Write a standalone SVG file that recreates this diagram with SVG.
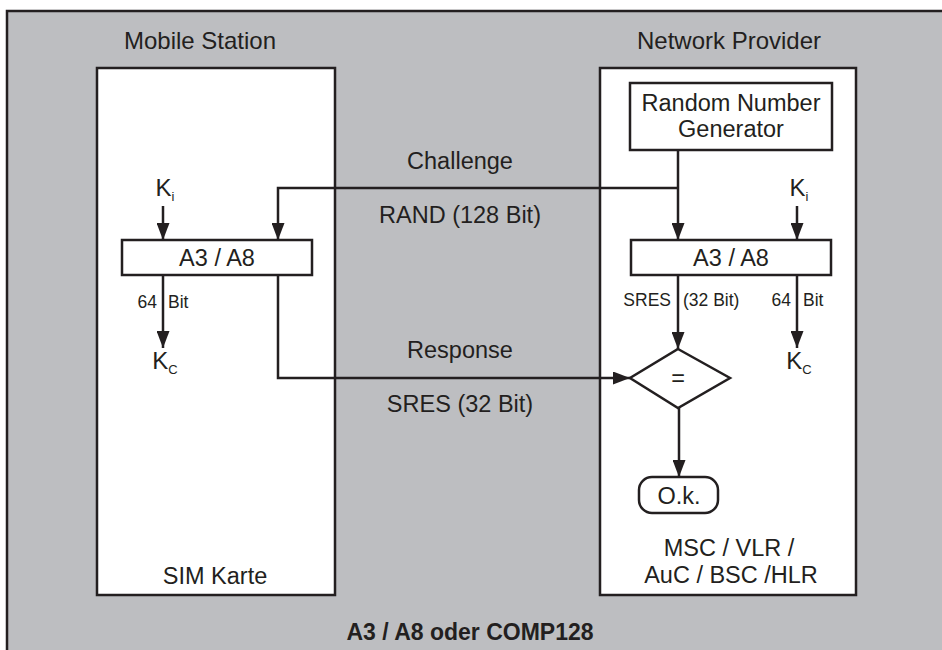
<svg xmlns="http://www.w3.org/2000/svg" width="942" height="650" viewBox="0 0 942 650">
<defs>
<style>
.frame{fill:#bdbec1;stroke:#231f20;stroke-width:2.5}
.box{fill:#ffffff;stroke:#231f20;stroke-width:2.5}
.ln{fill:none;stroke:#231f20;stroke-width:2.5}
text{font-family:"Liberation Sans",Arial,sans-serif;fill:#231f20}
.hd{font-size:24px}
.t{font-size:23.5px}
.s{font-size:17.5px}
.k{font-size:24px}
.sub{font-size:13px}
.b{font-size:23px;font-weight:bold}
</style>
<marker id="ah" viewBox="0 0 17 13" refX="17" refY="6.5" markerWidth="17" markerHeight="13" orient="auto" markerUnits="userSpaceOnUse">
<path d="M0,0 L17,6.5 L0,13 z" fill="#231f20"/>
</marker>
</defs>
<rect class="frame" x="7" y="11" width="945" height="650"/>
<g id="ms-label"><text class="hd" x="200" y="49" text-anchor="middle">Mobile Station</text></g>
<g id="np-label"><text class="hd" x="729" y="49" text-anchor="middle">Network Provider</text></g>
<g id="sim">
<rect class="box" x="97" y="68" width="238" height="527"/>
<text class="t" x="215" y="584" text-anchor="middle">SIM Karte</text>
</g>
<g id="network">
<rect class="box" x="600" y="68" width="256" height="527"/>
<text class="t" x="729" y="556" text-anchor="middle">MSC / VLR /</text>
<text class="t" x="731" y="583" text-anchor="middle">AuC / BSC /HLR</text>
</g>
<g id="rng">
<rect class="box" x="630" y="83" width="202" height="67"/>
<text class="t" x="731" y="111" text-anchor="middle">Random Number</text>
<text class="t" x="731" y="137" text-anchor="middle">Generator</text>
</g>
<g id="a3a8-ms">
<rect class="box" x="122" y="240" width="190" height="35"/>
<text class="t" x="217" y="266" text-anchor="middle">A3 / A8</text>
</g>
<g id="a3a8-np">
<rect class="box" x="631" y="240" width="200" height="35"/>
<text class="t" x="731" y="266" text-anchor="middle">A3 / A8</text>
</g>
<g id="ki-ms"><text x="165" y="196" text-anchor="middle"><tspan class="k">K</tspan><tspan class="sub" dy="5">i</tspan></text></g>
<g id="kc-ms"><text x="165" y="369" text-anchor="middle"><tspan class="k">K</tspan><tspan class="sub" dy="5">C</tspan></text></g>
<g id="ki-np"><text x="799" y="196" text-anchor="middle"><tspan class="k">K</tspan><tspan class="sub" dy="5">i</tspan></text></g>
<g id="kc-np"><text x="799" y="369" text-anchor="middle"><tspan class="k">K</tspan><tspan class="sub" dy="5">C</tspan></text></g>
<g id="compare">
<polygon class="box" points="678,349 730,378 678,408 630,378"/>
<text class="t" x="678" y="386" text-anchor="middle">=</text>
</g>
<g id="ok">
<rect class="box" x="639" y="477" width="79" height="36" rx="13" ry="13"/>
<text class="t" x="679" y="504" text-anchor="middle">O.k.</text>
</g>
<g id="connectors">
<path class="ln" d="M678,150 V240" marker-end="url(#ah)"/>
<path class="ln" d="M678,188 H278 V240" marker-end="url(#ah)"/>
<path class="ln" d="M163,206 V240" marker-end="url(#ah)"/>
<path class="ln" d="M797,206 V240" marker-end="url(#ah)"/>
<path class="ln" d="M163,275 V348" marker-end="url(#ah)"/>
<path class="ln" d="M797,275 V348" marker-end="url(#ah)"/>
<path class="ln" d="M678,275 V349" marker-end="url(#ah)"/>
<path class="ln" d="M278,275 V378 H630" marker-end="url(#ah)"/>
<path class="ln" d="M679,408 V477" marker-end="url(#ah)"/>
</g>
<g id="labels">
<text class="t" x="460" y="169" text-anchor="middle">Challenge</text>
<text class="t" x="460" y="223" text-anchor="middle">RAND (128 Bit)</text>
<text class="t" x="460" y="358" text-anchor="middle">Response</text>
<text class="t" x="460" y="412" text-anchor="middle">SRES (32 Bit)</text>
<text class="s" x="157" y="308" text-anchor="end">64</text>
<text class="s" x="168" y="308">Bit</text>
<text class="s" x="671" y="306" text-anchor="end">SRES</text>
<text class="s" x="683" y="306">(32 Bit)</text>
<text class="s" x="791" y="306" text-anchor="end">64</text>
<text class="s" x="803" y="306">Bit</text>
</g>
<g id="caption"><text class="b" x="470" y="640" text-anchor="middle">A3 / A8 oder COMP128</text></g>
</svg>
